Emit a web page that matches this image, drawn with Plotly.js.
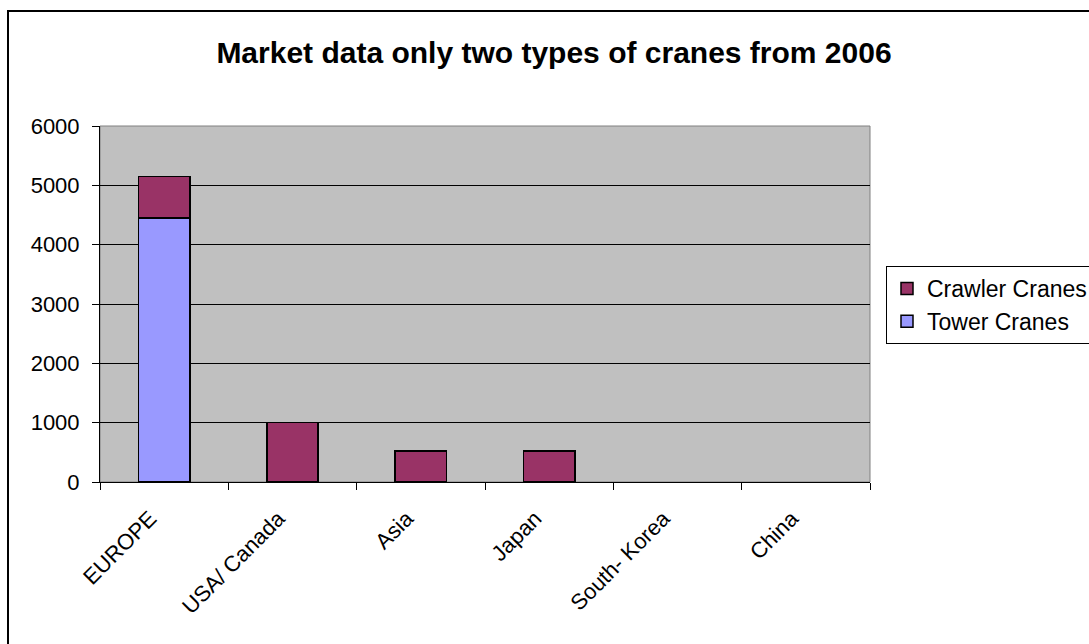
<!DOCTYPE html>
<html>
<head>
<meta charset="utf-8">
<script src="https://cdn.plot.ly/plotly-3.0.1.min.js"></script>
<style>html,body{margin:0;padding:0;background:#fff;}#chart{width:1089px;height:644px;}</style>
</head>
<body>
<div id="chart"></div>
<script>
var categories = ["EUROPE", "USA/ Canada", "Asia", "Japan", "South- Korea", "China"];
var towerCranes = [4450, 0, 0, 0, 0, 0];
var crawlerCranes = [700, 1000, 520, 520, 0, 0];
var yTicks = [0, 1000, 2000, 3000, 4000, 5000, 6000];

var W = 1089, H = 644;
var L = 100, R = 870, T = 126, B = 482;
function px(x){ return (x - L) / (R - L); }
function py(y){ return (B - y) / (B - T); }
function outline(vals){ return vals.map(function(v){ return v > 0 ? 1.5 : 0; }); }

var fam = "Liberation Sans, Arial, sans-serif";
var tickFont = {family: fam, size: 22, color: "#000"};
var legendFont = {family: fam, size: 23, color: "#000"};

var traces = [
  {type: "bar", name: "Tower Cranes", x: categories, y: towerCranes,
   marker: {color: "#9999FF", line: {color: "#000", width: outline(towerCranes)}}},
  {type: "bar", name: "Crawler Cranes", x: categories, y: crawlerCranes,
   marker: {color: "#993366", line: {color: "#000", width: outline(crawlerCranes)}}}
];

var layout = {
  width: W, height: H,
  barmode: "stack", bargap: 0.6,
  paper_bgcolor: "#fff", plot_bgcolor: "#C0C0C0",
  font: tickFont,
  margin: {l: L, r: W - R, t: T, b: H - B, autoexpand: false},
  title: {text: "<b>Market data only two types of cranes from 2006</b>",
          font: {family: fam, size: 30, color: "#000"},
          x: 554 / W, xanchor: "center", y: 1 - 52 / H, yanchor: "middle"},
  xaxis: {type: "category", tickangle: -45, tickson: "boundaries", ticks: "outside",
          ticklen: 7, tickcolor: "#000", showgrid: false, showline: true, linecolor: "#000",
          linewidth: 1, tickfont: tickFont, ticklabelstandoff: 14, ticklabelshift: -14,
          fixedrange: true},
  yaxis: {range: [0, 6000], tickvals: yTicks, ticks: "outside", ticklen: 7, tickcolor: "#000",
          showgrid: true, gridcolor: "#000", gridwidth: 1, zeroline: false, showline: true,
          linecolor: "#000", linewidth: 1, tickfont: tickFont, ticklabelstandoff: 8, fixedrange: true},
  legend: {x: px(886), xanchor: "left", y: py(305), yanchor: "middle",
           traceorder: "reversed", bgcolor: "#fff", bordercolor: "#000", borderwidth: 1,
           font: legendFont, itemwidth: 30, tracegroupgap: 0},
  showlegend: true,
  shapes: [
    {type: "rect", xref: "paper", yref: "paper", x0: 0, x1: 1, y0: 0, y1: 1,
     line: {color: "#808080", width: 1}, layer: "below"},
    {type: "rect", xref: "paper", yref: "paper", x0: px(8), x1: px(1100), y0: py(660), y1: py(11),
     line: {color: "#000", width: 2}, fillcolor: "rgba(0,0,0,0)"}
  ]
};

Plotly.newPlot("chart", traces, layout, {displayModeBar: false, staticPlot: true});
</script>
</body>
</html>
